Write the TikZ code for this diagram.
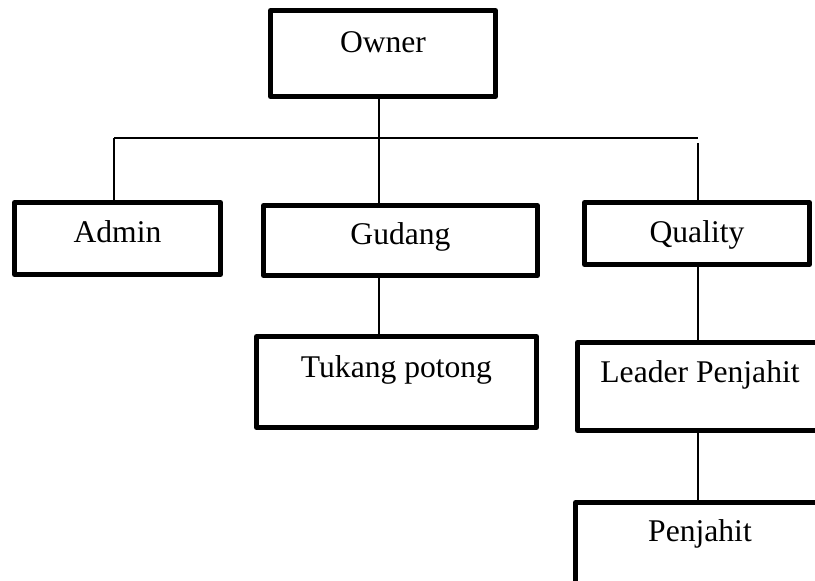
\documentclass[tikz,border=0pt]{standalone}
\usepackage{fontspec}
\setmainfont{Liberation Serif}
\usetikzlibrary{calc, positioning}

\begin{document}
\begin{tikzpicture}[x=0.5pt, y=0.5pt,
    box/.style={draw, line width=2.5pt, line join=round, inner sep=0pt,
      anchor=north west, align=center, font=\fontsize{15.8pt}{19pt}\selectfont},
    link/.style={line width=0.75pt}]
      \useasboundingbox (0,0) rectangle (815,-581);
      \clip (0,0) rectangle (815,-581);

      % columns of the tree
      \coordinate (colA) at (114,0);
      \coordinate (colB) at (379,0);
      \coordinate (colC) at (698,0);
      \coordinate (bar) at (0,-138);
      \coordinate (qtop) at (698,-143);

      \node[box, minimum width=112.5pt, text height=21.25pt, text depth=21.75pt] (owner) at (268,-8) {Owner};

      \node[box, minimum width=103pt, text height=20.25pt, text depth=15.75pt] (admin) at (12,-200) {Admin};
      \node[box, minimum width=137pt, text height=19.75pt, text depth=15.25pt] (gudang) at (261,-203) {Gudang};
      \node[box, minimum width=112.5pt, text height=20.25pt, text depth=10.75pt] (quality) at (582,-200) {Quality};

      \node[box, minimum width=140pt, text height=20.75pt, text depth=24.75pt] (tukang) at (254,-334) {Tukang potong};
      \node[box, minimum width=122.5pt, text height=20.25pt, text depth=23.75pt] (leader) at (575,-340) {Leader Penjahit};
      \node[box, minimum width=124.5pt, text height=19.75pt, text depth=25.25pt] (penjahit) at (573,-500) {Penjahit};

      \draw[link] (colB |- owner.south) -- (colB |- gudang.north);
      \draw[link] (colA |- bar) -- (colC |- bar);
      \draw[link] (colA |- bar) -- (colA |- admin.north);
      \draw[link] (qtop) -- (colC |- quality.north);
      \draw[link] (colB |- gudang.south) -- (colB |- tukang.north);
      \draw[link] (colC |- quality.south) -- (colC |- leader.north);
      \draw[link] (colC |- leader.south) -- (colC |- penjahit.north);
    \end{tikzpicture}
\end{document}
